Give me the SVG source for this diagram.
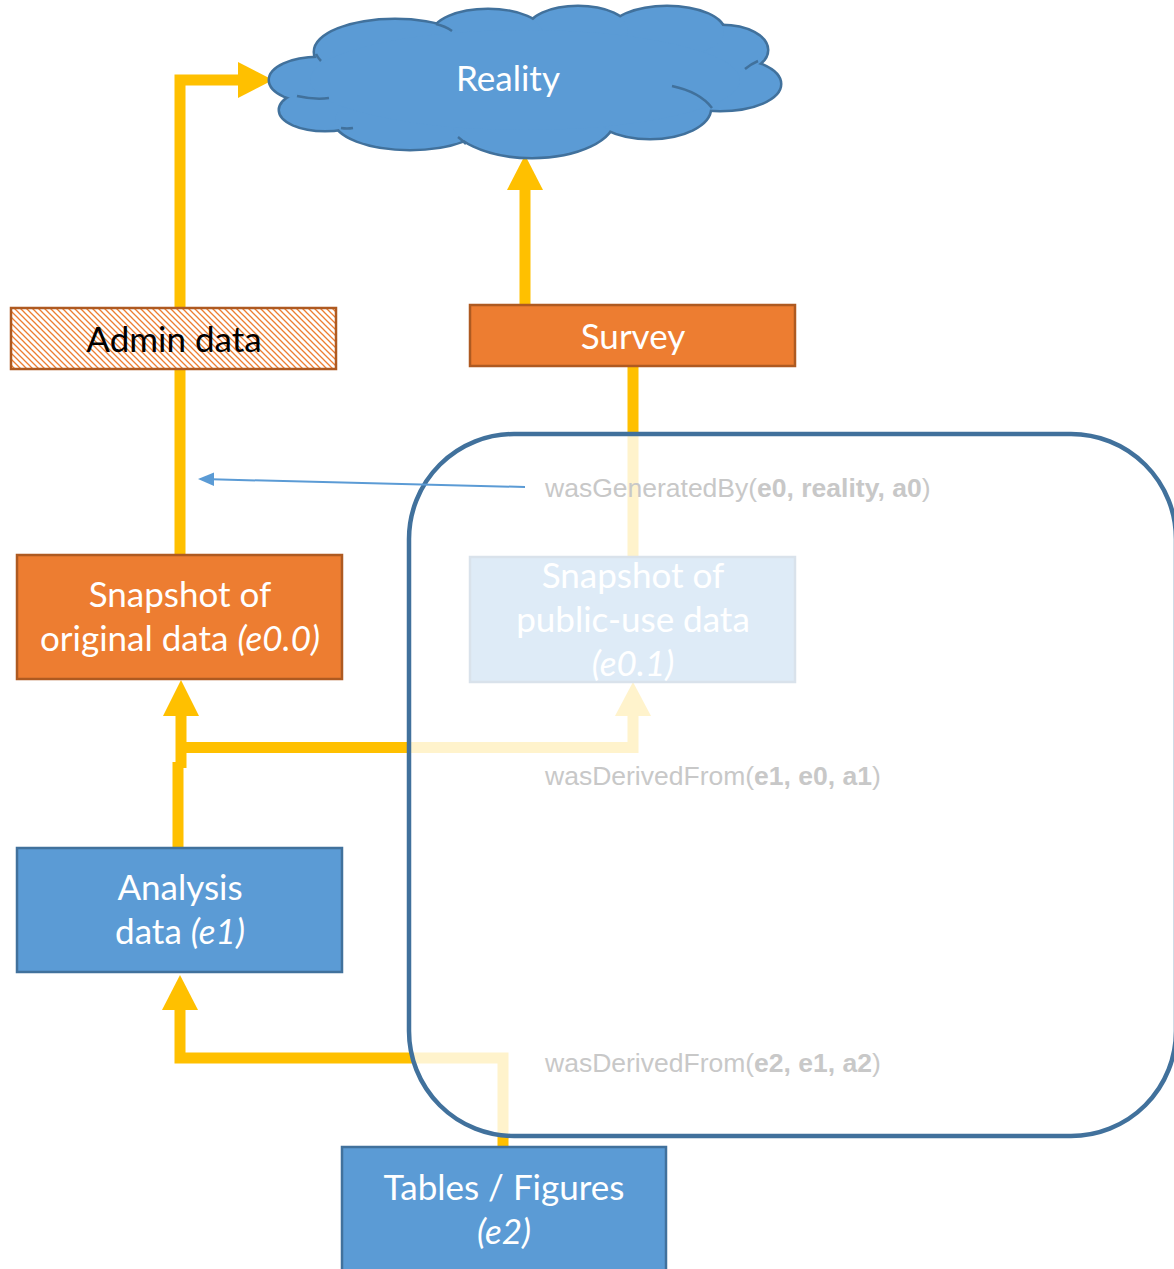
<svg xmlns="http://www.w3.org/2000/svg" width="1174" height="1269" viewBox="0 0 1174 1269">
  <style>
    .box-text { font-family: Lato, "Open Sans", sans-serif; font-size: 35px; fill: #ffffff; text-anchor: middle; }
    .dark { fill: #000000; }
    .it { font-style: italic; }
    .label { font-family: "Liberation Sans", Arial, sans-serif; font-size: 26.5px; fill: #c8c8c8; }
    .b { font-weight: bold; }
    .flow { fill: none; stroke: #ffc000; stroke-width: 11; }
    .head { fill: #ffc000; }
    .orange { fill: #ed7d31; stroke: #ae5a21; stroke-width: 2.5; }
    .blue { fill: #5b9bd5; stroke: #41719c; stroke-width: 2.5; }
  </style>
  <defs>
    <pattern id="hatch" patternUnits="userSpaceOnUse" width="6" height="6">
      <rect width="6" height="6" fill="#ffffff"/>
      <path d="M0,0 L6,6 M-1,5 L1,7 M5,-1 L7,1" stroke="#ed7d31" stroke-width="1.3"/>
    </pattern>
    <g id="cloud-lobes">
      <ellipse cx="318" cy="80" rx="48" ry="22"/>
      <ellipse cx="325" cy="110" rx="45" ry="20"/>
      <ellipse cx="410" cy="120" rx="75" ry="29"/>
      <ellipse cx="532" cy="118" rx="82" ry="39"/>
      <ellipse cx="650" cy="108" rx="60" ry="30"/>
      <ellipse cx="720" cy="84" rx="60" ry="26"/>
      <ellipse cx="722" cy="50" rx="45" ry="24"/>
      <ellipse cx="667" cy="32" rx="57" ry="25"/>
      <ellipse cx="578" cy="30" rx="50" ry="23"/>
      <ellipse cx="488" cy="34" rx="55" ry="24"/>
      <ellipse cx="395" cy="52" rx="80" ry="32"/>
      <ellipse cx="525" cy="80" rx="215" ry="50"/>
    </g>
  </defs>

  <!-- yellow flow connectors -->
  <g id="connectors">
    <path class="flow" d="M180,555 V80 H240"/>
    <polygon class="head" points="238,62 273,80 238,98"/>
    <path class="flow" d="M525,305 V190"/>
    <polygon class="head" points="507,190 525,155 543,190"/>
    <path class="flow" d="M633,367 V557"/>
    <path class="flow" d="M178,848 V762"/>
    <path class="flow" d="M181,768 V716"/>
    <polygon class="head" points="163,716 181,680 199,716"/>
    <path class="flow" d="M181,747.5 H633 V716"/>
    <polygon class="head" points="615,716 633,682 651,716"/>
    <path class="flow" d="M503,1147 V1058 H180 V1010"/>
    <polygon class="head" points="162,1010 180,975 198,1010"/>
  </g>

  <!-- Reality cloud -->
  <g id="reality">
    <use href="#cloud-lobes" fill="#5b9bd5" stroke="#41719c" stroke-width="5"/>
    <use href="#cloud-lobes" fill="#5b9bd5"/>
    <path d="M297,96 Q315,100 329,98 M672,86 Q700,92 712,108 M436,24 Q445,26 452,31 M745,69 Q751,64 758,61 M341,128 Q347,129 353,128 M458,137 Q462,140 466,144 M316,54 Q318,58 321,61" fill="none" stroke="#41719c" stroke-width="2.5"/>
    <text class="box-text" x="508" y="91">Reality</text>
  </g>

  <g id="admin-data">
    <rect x="11" y="308" width="325" height="61" fill="url(#hatch)" stroke="#ae5a21" stroke-width="2.5"/>
    <text class="box-text dark" x="174" y="352">Admin data</text>
  </g>

  <g id="survey">
    <rect class="orange" x="470" y="305" width="325" height="61"/>
    <text class="box-text" x="633" y="349">Survey</text>
  </g>

  <g id="snapshot-original">
    <rect class="orange" x="17" y="555" width="325" height="124"/>
    <text class="box-text" x="180" y="607">Snapshot of</text>
    <text class="box-text" x="180" y="651">original data <tspan class="it">(e0.0)</tspan></text>
  </g>

  <g id="snapshot-public">
    <rect class="blue" x="470" y="557" width="325" height="125"/>
    <text class="box-text" x="633" y="588">Snapshot of</text>
    <text class="box-text" x="633" y="632">public-use data</text>
    <text class="box-text it" x="633" y="676">(e0.1)</text>
  </g>

  <g id="analysis-data">
    <rect class="blue" x="17" y="848" width="325" height="124"/>
    <text class="box-text" x="180" y="900">Analysis</text>
    <text class="box-text" x="180" y="944">data <tspan class="it">(e1)</tspan></text>
  </g>

  <!-- translucent frame around the public-use branch -->
  <g id="public-branch-frame">
    <rect x="409" y="434" width="767" height="702" rx="105" ry="105" fill="#ffffff" fill-opacity="0.8" stroke="#41719c" stroke-width="4.5"/>
  </g>

  <g id="tables-figures">
    <rect class="blue" x="342" y="1147" width="324" height="130"/>
    <text class="box-text" x="504" y="1200">Tables / Figures</text>
    <text class="box-text it" x="504" y="1244">(e2)</text>
  </g>

  <!-- provenance annotations -->
  <g id="annotations">
    <line x1="525" y1="487" x2="212" y2="479.3" stroke="#5b9bd5" stroke-width="2"/>
    <polygon points="198,479 214,472.5 214,486" fill="#5b9bd5"/>
    <text class="label" x="545" y="497">wasGeneratedBy(<tspan class="b">e0, reality, a0</tspan>)</text>
    <text class="label" x="545" y="785">wasDerivedFrom(<tspan class="b">e1, e0, a1</tspan>)</text>
    <text class="label" x="545" y="1072">wasDerivedFrom(<tspan class="b">e2, e1, a2</tspan>)</text>
  </g>
</svg>
